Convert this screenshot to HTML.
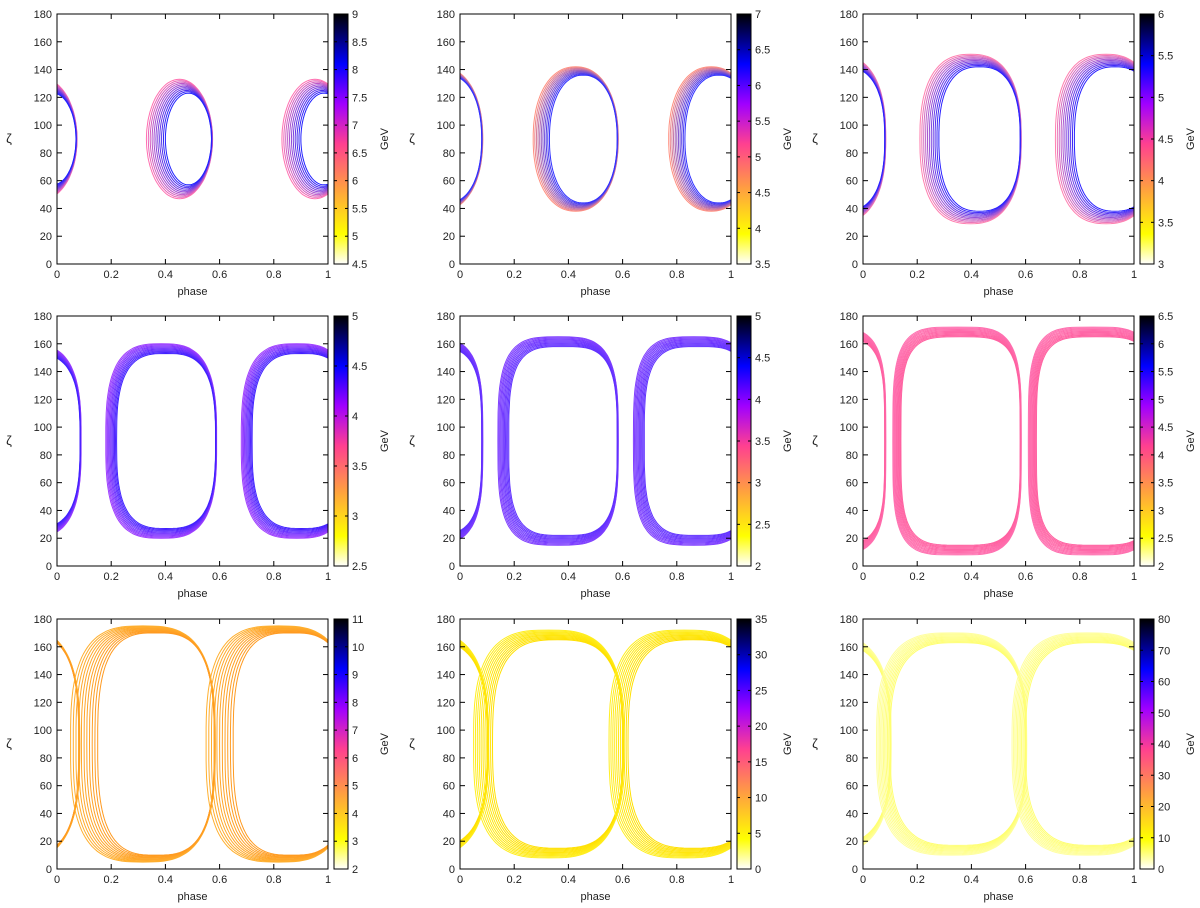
<!DOCTYPE html>
<html><head><meta charset="utf-8"><style>
body{margin:0;background:#fff}
svg{display:block;font-family:"Liberation Sans",sans-serif}
</style></head><body>
<svg id="fig" width="1200" height="908" viewBox="0 0 1200 908" xmlns="http://www.w3.org/2000/svg">
<defs>
<linearGradient id="pal" x1="0" y1="1" x2="0" y2="0">
<stop offset="0" stop-color="#ffffff"/><stop offset="0.12" stop-color="#ffff00"/><stop offset="0.3" stop-color="#ffa040"/><stop offset="0.48" stop-color="#ff4090"/><stop offset="0.64" stop-color="#a000ff"/><stop offset="0.8" stop-color="#0000ff"/><stop offset="1" stop-color="#000000"/>
</linearGradient>
</defs>
</svg>
<script>
// panel shape data: right edge phase, outer/inner left edge phase, outer/inner half-height (deg), squareness
const rightEdge=[0.57,0.58,0.58,0.585,0.58,0.58,0.58,0.6,0.6];
const outerLeft=[0.33,0.27,0.21,0.18,0.14,0.11,0.05,0.05,0.05];
const innerLeft=[0.40,0.33,0.28,0.22,0.18,0.14,0.15,0.12,0.1];
const outerHalf=[43,52,61,70,75,82,85,82,80];
const innerHalf=[33,46,52,63,68,75,80,75,73];
const squareness=[2,2.2,2.5,3,3.5,4,3,3,3];
const innerColor=['#2020ff','#3030ff','#2a20ff','#4020ff','#6030ff','#ff60a0','#ff9a20','#ffe000','#ffff70'];
const outerColor=['#ff70b0','#ff9080','#ff80b0','#a040ff','#8040ff','#ff70b0','#ffb030','#ffee20','#ffffa0'];
const cbTicks=[
[4.5,5,5.5,6,6.5,7,7.5,8,8.5,9],[3.5,4,4.5,5,5.5,6,6.5,7],[3,3.5,4,4.5,5,5.5,6],
[2.5,3,3.5,4,4.5,5],[2,2.5,3,3.5,4,4.5,5],[2,2.5,3,3.5,4,4.5,5,5.5,6,6.5],
[2,3,4,5,6,7,8,9,10,11],[0,5,10,15,20,25,30,35],[0,10,20,30,40,50,60,70,80]];
const xTicks=[0,0.2,0.4,0.6,0.8,1];
const yTicks=[0,20,40,60,80,100,120,140,160,180];
const colX=[57,460,863], rowY=[14,316,619], W=271, H=250;
const NS='http://www.w3.org/2000/svg';
const svg=document.getElementById('fig');
function mk(tag,attrs,parent){const e=document.createElementNS(NS,tag);for(const k in attrs)e.setAttribute(k,attrs[k]);(parent||svg).appendChild(e);return e;}
function mix(a,b,t){const p=s=>[1,3,5].map(i=>parseInt(s.substr(i,2),16));const A=p(a),B=p(b);return 'rgb('+A.map((v,i)=>Math.round(v+(B[i]-v)*t)).join(',')+')';}
for(let i=0;i<9;i++){
  const ox=colX[i%3], oy=rowY[Math.floor(i/3)];
  const g=mk('g',{});
  
  
  const sx=v=>ox+v*W, sy=v=>oy+H-v/180*H;
  mk('clipPath',{id:'c'+i},g).appendChild(Object.assign(document.createElementNS(NS,'rect'),{}));
  const cr=g.lastChild.firstChild; cr.setAttribute('x',ox);cr.setAttribute('y',oy);cr.setAttribute('width',W);cr.setAttribute('height',H);
  const dg=mk('g',{'clip-path':'url(#c'+i+')'},g);
  const K=11;
  for(const shift of [-0.5,0,0.5]){
    for(let k=K-1;k>=0;k--){
      const t=k/(K-1);
      const L=innerLeft[i]+(outerLeft[i]-innerLeft[i])*t;
      const R=rightEdge[i]+0.004*t;
      const h=innerHalf[i]+(outerHalf[i]-innerHalf[i])*t;
      const c=(L+R)/2, w=(R-L)/2, n=squareness[i];
      let d='';
      for(let j=0;j<=120;j++){
        const a=j/120*2*Math.PI, ca=Math.cos(a), sa=Math.sin(a);
        const px=c+shift+w*Math.sign(ca)*Math.pow(Math.abs(ca),2/n);
        const py=90+h*Math.sign(sa)*Math.pow(Math.abs(sa),2/n);
        d+=(j?'L':'M')+sx(px).toFixed(1)+' '+sy(py).toFixed(1);
      }
      const p=mk('path',{d:d,fill:'none',stroke:mix(innerColor[i],outerColor[i],t),'stroke-width':1},dg);
      
      
    }
  }
  mk('rect',{x:ox,y:oy,width:W,height:H,fill:'none',stroke:'#000','stroke-width':1},g);
  xTicks.forEach(v=>{
    mk('line',{x1:sx(v),x2:sx(v),y1:oy+H,y2:oy+H-5,stroke:'#000'},g);
    mk('line',{x1:sx(v),x2:sx(v),y1:oy,y2:oy+5,stroke:'#000'},g);
    const tx=mk('text',{x:sx(v),y:oy+H+14,'font-size':11,'text-anchor':'middle',fill:'#222'},g);tx.textContent=v;
    
  });
  yTicks.forEach(v=>{
    mk('line',{x1:ox,x2:ox+5,y1:sy(v),y2:sy(v),stroke:'#000'},g);
    mk('line',{x1:ox+W,x2:ox+W-5,y1:sy(v),y2:sy(v),stroke:'#000'},g);
    const tx=mk('text',{x:ox-5,y:sy(v)+4,'font-size':11,'text-anchor':'end',fill:'#222'},g);tx.textContent=v;
    
  });
  const xl=mk('text',{x:ox+W/2,y:oy+H+31,'font-size':11,'text-anchor':'middle',fill:'#222'},g);xl.textContent='phase';
  
  const yl=mk('text',{x:ox-48,y:oy+H/2+4,'font-size':13,'text-anchor':'middle',fill:'#222'},g);yl.textContent='ζ';
  
  // colorbar
  const cx=ox+W+6, cw=14;
  const cb=mk('rect',{x:cx,y:oy,width:cw,height:H,fill:'url(#pal)',stroke:'#000','stroke-width':1},g);
  
  const tk=cbTicks[i], lo=tk[0], hi=tk[tk.length-1];
  tk.forEach(v=>{
    const y=oy+H-(v-lo)/(hi-lo)*H;
    mk('line',{x1:cx,x2:cx+3,y1:y,y2:y,stroke:'#000'},g);
    mk('line',{x1:cx+cw,x2:cx+cw-3,y1:y,y2:y,stroke:'#000'},g);
    const tx=mk('text',{x:cx+cw+4,y:y+4,'font-size':11,fill:'#222'},g);tx.textContent=v;
    
  });
  const gl=mk('text',{x:0,y:0,'font-size':11,'text-anchor':'middle',fill:'#222',transform:'translate('+(cx+cw+40)+','+(oy+H/2)+') rotate(-90)'},g);gl.textContent='GeV';
  
}
</script>
</body></html>
